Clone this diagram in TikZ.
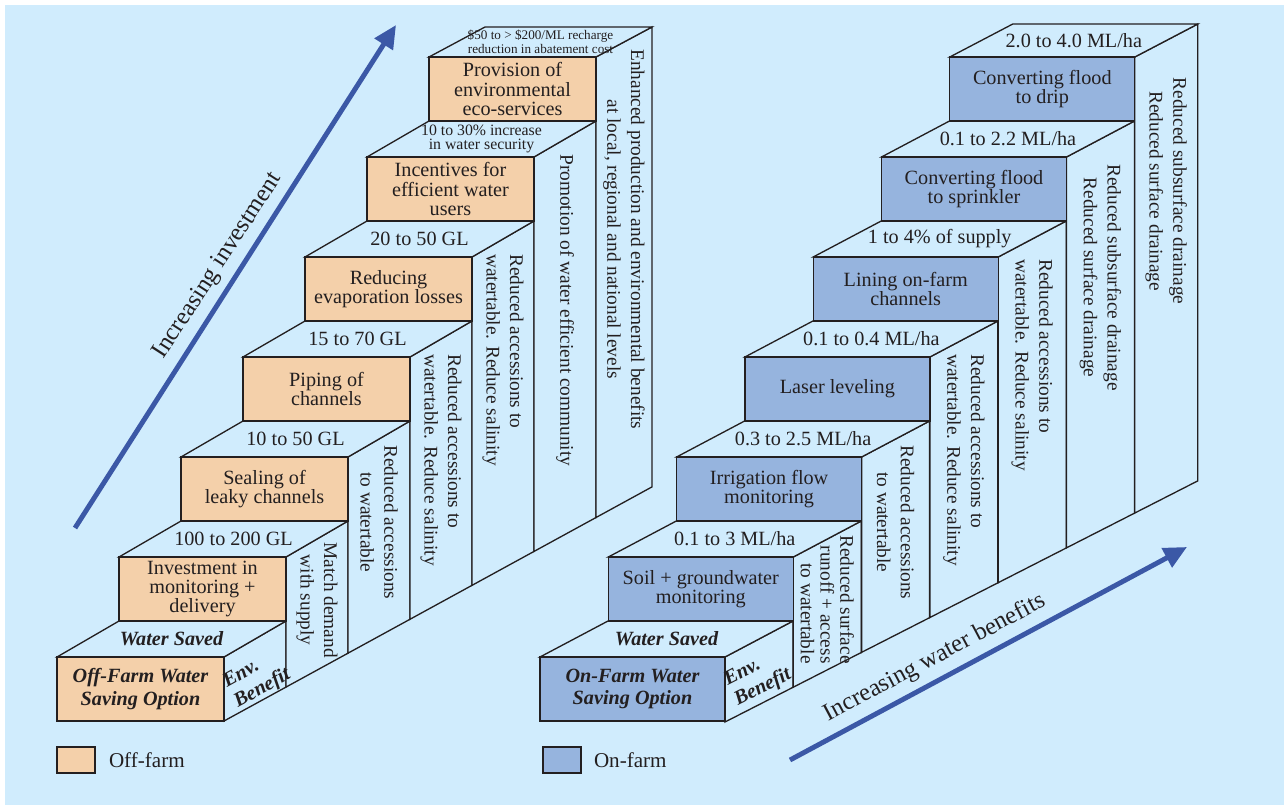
\documentclass[tikz,border=0pt]{standalone}
\usepackage{fontspec}
\setmainfont{Liberation Serif}
\usetikzlibrary{arrows.meta,positioning}

\definecolor{skybg}{RGB}{208,236,253}
\definecolor{offfarm}{RGB}{244,208,170}
\definecolor{onfarm}{RGB}{150,180,222}
\definecolor{trendblue}{RGB}{59,88,166}
\definecolor{ink}{RGB}{35,31,32}

\tikzset{
  face/.style={draw=ink, line width=0.75pt, fill=skybg},
  boxtext/.style={align=center, inner sep=0pt, text=ink, font=\fontsize{11.5}{11}\selectfont},
  toptext/.style={align=center, inner sep=0pt, text=ink, font=\fontsize{11.5}{11}\selectfont},
  sidetext/.style={align=left, inner sep=0pt, text=ink, rotate=-90, anchor=west, font=\fontsize{11}{13.5}\selectfont},
  envtext/.style={align=left, inner sep=0pt, text=ink, rotate=#1, font=\fontsize{11.5}{13}\selectfont\bfseries\itshape},
  trend/.style={draw=trendblue, line width=2.8pt, -{Triangle[length=0.46cm,width=0.42cm]}},
  trendtext/.style={inner sep=0pt, text=ink, font=\fontsize{14}{14}\selectfont},
  keybox/.style={draw=ink, line width=0.75pt, minimum width=0.76cm, minimum height=0.52cm, inner sep=0pt},
  keytext/.style={inner sep=0pt, text=ink, font=\fontsize{12}{12}\selectfont},
  stepfront/.style={}, steptop/.style={}, stepside/.style={},
  titlefont/.style={font=\fontsize{11.5}{12.6}\selectfont\bfseries\itshape},
}

% one step of a staircase: [#1 drop of side text] #2 name, #3 step, #4 colour, #5 front, #6 top, #7 side
\newcommand{\stairblock}[7][15]{%
  \pgfmathsetmacro{\sbx}{\stairx+\stairs*#3}%
  \pgfmathsetmacro{\sby}{657-100*#3}%
  \pgfmathsetmacro{\sbr}{\sbx+\stairw}%
  \ifnum#3=6 \let\sdx\stairlx \let\sdy\stairly \else \let\sdx\stairdx \let\sdy\stairdy \fi
  \pgfmathsetmacro{\sbb}{\sbr+\sdx}%
  \pgfmathsetmacro{\sbt}{\sby-\sdy}%
  \pgfmathsetmacro{\sfa}{\stairfy-\stairfs*(\sbr-\stairfx)}%
  \pgfmathsetmacro{\sfb}{\stairfy-\stairfs*(\sbb-\stairfx)}%
  \draw[face] (\sbr,\sby) -- (\sbb,\sbt) -- (\sbb,\sfb) -- (\sbr,\sfa) -- cycle;
  \draw[face] (\sbx,\sby) -- (\sbr,\sby) -- (\sbb,\sbt) -- ({\sbx+\sdx},\sbt) -- cycle;
  \draw[face, fill=#4] (\sbx,\sby) rectangle (\sbr,{\sby+64});
  \node[boxtext, stepfront] (#2-front) at ({(\sbx+\sbr)/2},{\sby+32}) {#5};
  \node[toptext, steptop] (#2-top) at ({(\sbx+\sbb)/2},{\sby-\sdy/2}) {#6};
  \node[sidetext, stepside] (#2-side) at ({\sbr+\sdx/2},{\sby-\sdy/2+#1}) {#7};
}

\begin{document}
\begin{tikzpicture}[x=0.02cm,y=-0.02cm]
  \useasboundingbox (0,0) rectangle (1286,805);
  \fill[white] (0,0) rectangle (1286,805);
  \fill[skybg] (5,5) rectangle (1284,805);

  % off-farm staircase
  \def\stairx{57}\def\stairs{62}\def\stairw{167}
  \def\stairdx{62}\def\stairdy{36}\def\stairlx{56}\def\stairly{30}
  \def\stairfx{224}\def\stairfy{721}\def\stairfs{0.547}
  \begin{scope}[stepfront/.style={titlefont}, steptop/.style={titlefont}]
    \stairblock{off0}{0}{offfarm}{Off-Farm Water\\Saving Option}{Water Saved}{}
  \end{scope}
  \begin{scope}[stepside/.style={align=center}]
    \stairblock[3]{off1}{1}{offfarm}{Investment in\\monitoring +\\delivery}{100 to 200 GL}{Match demand\\with supply}
    \stairblock[6]{off2}{2}{offfarm}{Sealing of\\leaky channels}{10 to 50 GL}{Reduced accessions\\to watertable}
  \end{scope}
  \stairblock{off3}{3}{offfarm}{Piping of\\channels}{15 to 70 GL}{Reduced accessions to\\watertable. Reduce salinity}
  \stairblock{off4}{4}{offfarm}{Reducing\\evaporation losses}{20 to 50 GL}{Reduced accessions to\\watertable. Reduce salinity}
  \begin{scope}[steptop/.style={font=\fontsize{9}{8}\selectfont}]
    \stairblock{off5}{5}{offfarm}{Incentives for\\efficient water\\users}{10 to 30\% increase\\in water security}{Promotion of water efficient community}
  \end{scope}
  \begin{scope}[steptop/.style={font=\fontsize{7.5}{6.5}\selectfont}, stepside/.style={align=center}]
    \stairblock[7]{off6}{6}{offfarm}{Provision of\\environmental\\eco-services}{\$50 to > \$200/ML recharge\\reduction in abatement cost}{Enhanced production and environmental benefits\\at local, regional and national levels}
  \end{scope}
  \node[envtext=29] (off0-env) at (257,679) {Env.\\Benefit};

  % on-farm staircase
  \def\stairx{540}\def\stairs{68.3}\def\stairw{185}
  \def\stairdx{68}\def\stairdy{36}\def\stairlx{63}\def\stairly{33}
  \def\stairfx{725}\def\stairfy{722}\def\stairfs{0.51}
  \begin{scope}[stepfront/.style={titlefont}, steptop/.style={titlefont}]
    \stairblock{on0}{0}{onfarm}{On-Farm Water\\Saving Option}{Water Saved}{}
  \end{scope}
  \begin{scope}[stepside/.style={align=right, font=\fontsize{11}{11.2}\selectfont}]
    \stairblock[-4]{on1}{1}{onfarm}{Soil + groundwater\\monitoring}{0.1 to 3 ML/ha}{Reduced surface\\runoff + access\\to watertable}
  \end{scope}
  \begin{scope}[stepside/.style={align=center}]
    \stairblock[6]{on2}{2}{onfarm}{Irrigation flow\\monitoring}{0.3 to 2.5 ML/ha}{Reduced accessions\\to watertable}
  \end{scope}
  \stairblock{on3}{3}{onfarm}{Laser leveling}{0.1 to 0.4 ML/ha}{Reduced accessions to\\watertable. Reduce salinity}
  \stairblock[20]{on4}{4}{onfarm}{Lining on-farm\\channels}{1 to 4\% of supply}{Reduced accessions to\\watertable. Reduce salinity}
  \begin{scope}[stepside/.style={align=center}]
    \stairblock[25]{on5}{5}{onfarm}{Converting flood\\to sprinkler}{0.1 to 2.2 ML/ha}{Reduced subsurface drainage\\Reduced surface drainage}
    \stairblock[37]{on6}{6}{onfarm}{Converting flood\\to drip}{2.0 to 4.0 ML/ha}{Reduced subsurface drainage\\Reduced surface drainage}
  \end{scope}
  \node[envtext=27] (on0-env) at (758,678) {Env.\\Benefit};

  % trend arrows
  \coordinate (inv-tail) at (75,528);
  \coordinate (inv-head) at (396,25);
  \draw[trend] (inv-tail) -- (inv-head);
  \node[trendtext, rotate=57] (inv-label) at (218,266) {Increasing investment};
  \coordinate (ben-tail) at (790,760);
  \coordinate (ben-head) at (1187,547);
  \draw[trend] (ben-tail) -- (ben-head);
  \node[trendtext, rotate=28] (ben-label) at (935,658) {Increasing water benefits};

  % legend
  \node[keybox, fill=offfarm] (key-off) at (76,760) {};
  \node[keytext, right=0.26cm of key-off] (key-off-text) {Off-farm};
  \node[keybox, fill=onfarm] (key-on) at (562,760) {};
  \node[keytext, right=0.24cm of key-on] (key-on-text) {On-farm};
\end{tikzpicture}
\end{document}
